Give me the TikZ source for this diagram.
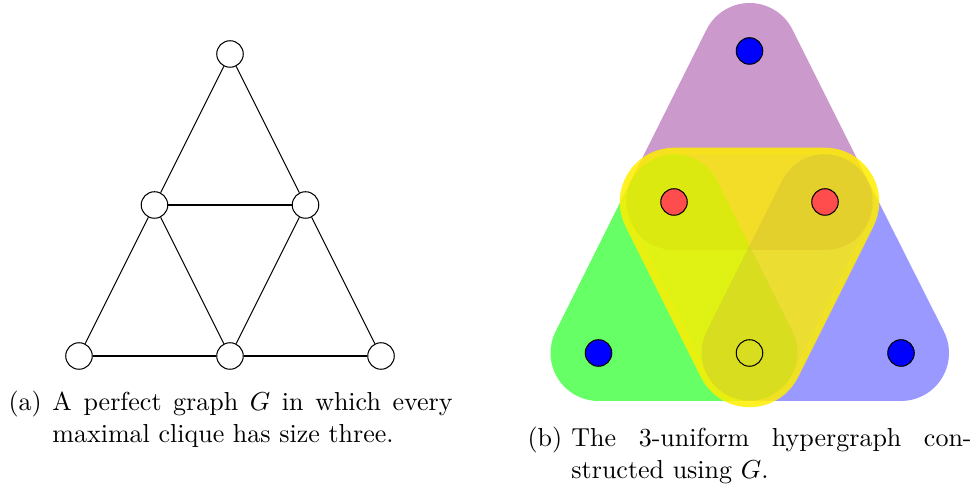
\documentclass[tikz,border=0pt]{standalone}
\usetikzlibrary{calc}
\definecolor{hyellow}{RGB}{255,238,0}
\definecolor{hviolet}{RGB}{128,0,128}
\tikzset{
  vtx/.style={circle, draw=black, inner sep=0pt, minimum size=10.2pt, fill=white},
  hvtx/.style={circle, draw=black, inner sep=0pt, minimum size=10.2pt},
  edge/.style={draw=black},
  caption/.style={anchor=base west, inner sep=0pt, font=\normalsize},
  uphull/.style n args={4}{insert path={($(#1)+(26.565:#4)$) -- ($(#2)+(26.565:#4)$) arc[start angle=26.565,end angle=-90,radius=#4] -- ($(#3)+(-90:#4)$) arc[start angle=-90,end angle=-206.565,radius=#4] -- ($(#1)+(153.435:#4)$) arc[start angle=153.435,end angle=26.565,radius=#4] -- cycle}},
  downhull/.style n args={4}{insert path={($(#1)+(90:#4)$) -- ($(#2)+(90:#4)$) arc[start angle=90,end angle=-26.565,radius=#4] -- ($(#3)+(-26.565:#4)$) arc[start angle=-26.565,end angle=-153.435,radius=#4] -- ($(#1)+(206.565:#4)$) arc[start angle=206.565,end angle=90,radius=#4] -- cycle}},
}
\newcommand{\capbox}[2]{\parbox[t]{170.8pt}{\tolerance=10000\hbadness=10000\hangindent=16.9pt\hangafter=1\noindent\makebox[16.9pt][l]{#1}#2}}
\begin{document}
\begin{tikzpicture}[x=0.38462pt, y=0.38462pt]
\useasboundingbox (0,0) rectangle (974,486);

% ---------- left: graph G ----------
\node[vtx] (gt) at (230,432) {};
\node[vtx] (gml) at (154.5,281) {};
\node[vtx] (gmr) at (305.5,281) {};
\node[vtx] (gbl) at (79,130) {};
\node[vtx] (gbm) at (230,130) {};
\node[vtx] (gbr) at (381,130) {};
\draw[edge] (gt) -- (gml);
\draw[edge] (gt) -- (gmr);
\draw[edge] (gml) -- (gmr);
\draw[edge] (gml) -- (gbl);
\draw[edge] (gml) -- (gbm);
\draw[edge] (gmr) -- (gbm);
\draw[edge] (gmr) -- (gbr);
\draw[edge] (gbl) -- (gbm);
\draw[edge] (gbm) -- (gbr);

% ---------- right: hypergraph ----------
\coordinate (ht) at (749.5,435);
\coordinate (hl) at (674,284);
\coordinate (hr) at (825,284);
\coordinate (hbl) at (598.5,133);
\coordinate (hbm) at (749.5,133);
\coordinate (hbr) at (901,133);

\fill[hviolet, opacity=0.4, uphull={ht}{hr}{hl}{48}];
\fill[green, opacity=0.6, uphull={hl}{hbm}{hbl}{48}];
\fill[blue, opacity=0.4, uphull={hr}{hbr}{hbm}{48}];
\fill[hyellow, opacity=0.8, downhull={hl}{hr}{hbm}{48}];
\draw[hyellow, draw opacity=0.85, line width=2.5pt, downhull={hl}{hr}{hbm}{51}];

\node[hvtx, fill=blue] (vt) at (ht) {};
\node[hvtx, fill=red!70] (vl) at (hl) {};
\node[hvtx, fill=red!70] (vr) at (hr) {};
\node[hvtx, fill=blue] (vbl) at (hbl) {};
\node[hvtx] (vbm) at (hbm) {};
\node[hvtx, fill=blue] (vbr) at (hbr) {};

% ---------- captions ----------
\node[caption] (capa) at (8,75) {\capbox{(a)}{A perfect graph $G$ in which every\linebreak maximal clique has size three.}};
\node[caption] (capb) at (527,39) {\capbox{(b)}{The 3-uniform hypergraph con-\linebreak structed using $G$.}};
\end{tikzpicture}
\end{document}
